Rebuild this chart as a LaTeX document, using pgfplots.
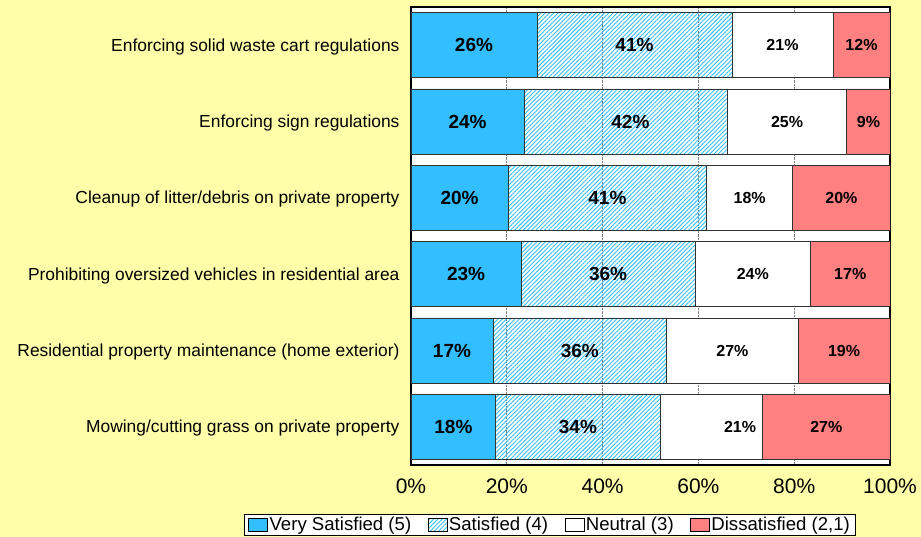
\documentclass[border=0pt]{standalone}
\usepackage{pgfplots}
\pgfplotsset{compat=1.18}
\usepackage{pgfplotstable}
\usepackage{fontspec}
\setmainfont{Liberation Sans}
\usetikzlibrary{patterns.meta}
\definecolor{bg}{RGB}{255,255,170}
\definecolor{vs}{RGB}{51,190,255}
\definecolor{dis}{RGB}{255,128,128}

\pgfplotstableread{
y vs s n d
0 17.7 34.3 21.4 26.6
1 17.1 36.3 27.4 19.2
2 23.0 36.3 24.1 16.6
3 20.3 41.3 18.1 20.3
4 23.6 42.4 25.0 9.0
5 26.3 40.7 21.1 11.9
}\data

\pgfplotstableread{
y vsx vsl sx sl nx nl dx dl
0 8.85 18 34.85 34 68.7 21 86.7 27
1 8.55 17 35.25 36 67.1 27 90.4 19
2 11.5 23 41.15 36 71.35 24 91.7 17
3 10.15 20 41.0 41 70.7 18 89.85 20
4 11.8 24 45.8 42 78.5 25 95.5 9
5 13.15 26 46.65 41 77.55 21 94.05 12
}\labels

\pgfplotsset{
  common/.style={
    at={(411pt,72pt)}, anchor=south west,
    scale only axis, width=479pt, height=458pt,
    xmin=0, xmax=100, ymin=-0.5, ymax=5.5,
  },
  lab/.style={draw=none, mark=none, nodes near coords={\pgfplotspointmeta\%},
    point meta=explicit symbolic,
    every node near coord/.append style={anchor=center, text=black, font=#1}},
}

\begin{document}
\begin{tikzpicture}
\path[use as bounding box, fill=bg] (0,0) rectangle (921pt,537pt);
\begin{axis}[
  common,
  xbar stacked, bar width=65pt,
  axis background/.style={fill=white},
  axis line style={line width=1.8pt},
  ytick={0,1,2,3,4,5},
  yticklabels={Mowing/cutting grass on private property,
    Residential property maintenance (home exterior),
    Prohibiting oversized vehicles in residential area,
    Cleanup of litter/debris on private property,
    Enforcing sign regulations,
    Enforcing solid waste cart regulations},
  yticklabel style={font=\fontsize{17.4}{20}\selectfont, xshift=-8pt, yshift=-1.5pt},
  xtick={0,20,40,60,80,100},
  xticklabel={\pgfmathprintnumber{\tick}\%},
  xticklabel style={font=\fontsize{21}{25}\selectfont, yshift=-10pt},
  /pgf/number format/assume math mode=true,
  major tick length=0pt,
  xmajorgrids, grid style={densely dotted, gray, line width=0.8pt},
  legend columns=4,
  legend style={at={(-0.3486,-0.107)}, anchor=north west, draw=black, fill=white,
    line width=0.8pt,
    font=\fontsize{18.6}{22}\selectfont, inner xsep=4pt, inner ysep=1pt,
    nodes={inner xsep=1.5pt, inner ysep=2pt},
    /tikz/every even column/.append style={column sep=15pt}},
  legend image code/.code={\draw[#1, draw=black, line width=0.7pt] (0pt,-6.5pt) rectangle (19pt,6.5pt);},
]
\addplot[fill=vs, draw=black!80, line width=0.8pt] table[x=vs, y=y]{\data};
\addplot[pattern={Lines[angle=45,distance=3pt,line width=0.9pt]}, pattern color=vs, draw=black!80, line width=0.8pt] table[x=s, y=y]{\data};
\addplot[fill=white, draw=black!80, line width=0.8pt] table[x=n, y=y]{\data};
\addplot[fill=dis, draw=black!80, line width=0.8pt] table[x=d, y=y]{\data};
\legend{Very Satisfied (5), Satisfied (4), Neutral (3), Dissatisfied (2{,}1)\hspace{14pt}}
\end{axis}
\begin{axis}[common, hide axis]
\addplot[lab={\bfseries\fontsize{19}{22}\selectfont}] table[x=vsx, y=y, meta=vsl]{\labels};
\addplot[lab={\bfseries\fontsize{19}{22}\selectfont}] table[x=sx, y=y, meta=sl]{\labels};
\addplot[lab={\bfseries\fontsize{16}{19}\selectfont}] table[x=nx, y=y, meta=nl]{\labels};
\addplot[lab={\bfseries\fontsize{16}{19}\selectfont}] table[x=dx, y=y, meta=dl]{\labels};
\end{axis}
\end{tikzpicture}
\end{document}
